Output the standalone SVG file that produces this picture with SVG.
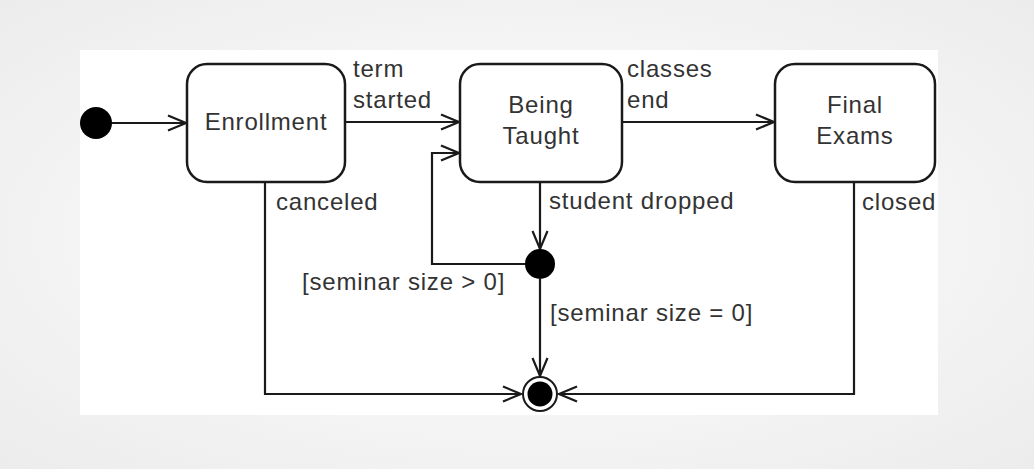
<svg xmlns="http://www.w3.org/2000/svg" width="1034" height="469" viewBox="0 0 1034 469">
  <defs>
    <radialGradient id="bg" cx="50%" cy="50%" r="70%">
      <stop offset="0%" stop-color="#ffffff"/>
      <stop offset="100%" stop-color="#ececec"/>
    </radialGradient>
    <marker id="open" markerUnits="userSpaceOnUse" markerWidth="24" markerHeight="22" viewBox="-21 -11 24 22" refX="0" refY="0" orient="auto">
      <path d="M-18,-7.5 L0,0 L-18,7.5" fill="none" stroke="#1a1a1a" stroke-width="2.2" stroke-linejoin="miter"/>
    </marker>
    <style>
      .box { fill: #ffffff; stroke: #1a1a1a; stroke-width: 2.5; }
      .conn { fill: none; stroke: #1a1a1a; stroke-width: 2.2; }
      .lbl { font-family: "Liberation Sans", Arial, sans-serif; font-size: 24px; letter-spacing: 0.8px; fill: #333333; }
      .mid { text-anchor: middle; }
    </style>
  </defs>
  <rect x="0" y="0" width="1034" height="469" fill="url(#bg)"/>
  <rect x="80" y="50" width="858" height="365" fill="#ffffff"/>

  <g id="connectors">
    <path class="conn" d="M112,123 H186" marker-end="url(#open)"/>
    <path class="conn" d="M345,122 H459" marker-end="url(#open)"/>
    <path class="conn" d="M622,122 H774" marker-end="url(#open)"/>
    <path class="conn" d="M526,264 H432 V153 H459" marker-end="url(#open)"/>
    <path class="conn" d="M540,182 V249" marker-end="url(#open)"/>
    <path class="conn" d="M540,279 V376" marker-end="url(#open)"/>
    <path class="conn" d="M265,182 V394 H521" marker-end="url(#open)"/>
    <path class="conn" d="M854,182 V394 H559" marker-end="url(#open)"/>
    <text class="lbl" x="353" y="77">term</text>
    <text class="lbl" x="353" y="108">started</text>
    <text class="lbl" x="627" y="77">classes</text>
    <text class="lbl" x="627" y="108">end</text>
    <text class="lbl" x="276" y="210">canceled</text>
    <text class="lbl" x="549" y="209">student dropped</text>
    <text class="lbl" x="862" y="210">closed</text>
    <text class="lbl" x="302" y="290">[seminar size &gt; 0]</text>
    <text class="lbl" x="550" y="321">[seminar size = 0]</text>
  </g>

  <g id="initial">
    <circle cx="96" cy="123" r="16" fill="#000000"/>
  </g>

  <g id="enrollment">
    <rect class="box" x="187" y="64" width="158" height="118" rx="20"/>
    <text class="lbl mid" x="266" y="130">Enrollment</text>
  </g>

  <g id="being-taught">
    <rect class="box" x="460" y="64" width="162" height="118" rx="20"/>
    <text class="lbl mid" x="541" y="113">Being</text>
    <text class="lbl mid" x="541" y="144">Taught</text>
  </g>

  <g id="final-exams">
    <rect class="box" x="775" y="64" width="160" height="118" rx="20"/>
    <text class="lbl mid" x="855" y="113">Final</text>
    <text class="lbl mid" x="855" y="144">Exams</text>
  </g>

  <g id="junction">
    <circle cx="540" cy="264" r="15" fill="#000000"/>
  </g>

  <g id="final">
    <circle cx="540" cy="394" r="17" fill="#ffffff" stroke="#1a1a1a" stroke-width="2"/>
    <circle cx="540" cy="394" r="12.5" fill="#000000"/>
  </g>
</svg>
